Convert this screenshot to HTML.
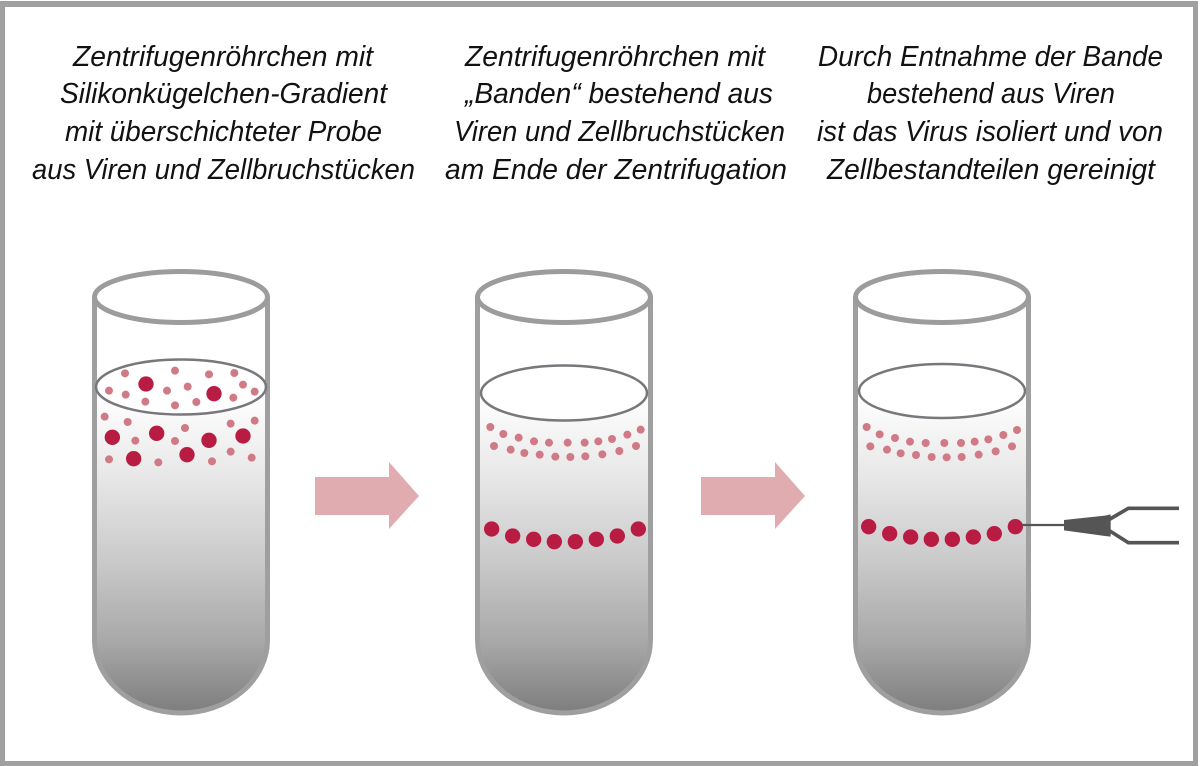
<!DOCTYPE html>
<html lang="de">
<head>
<meta charset="utf-8">
<title>Zentrifugation</title>
<style>
html,body{margin:0;padding:0;background:#fff;width:1200px;height:766px;overflow:hidden}
svg{display:block}
text{font-family:"Liberation Sans",sans-serif;font-style:italic;font-size:29px;fill:#111}
.s{fill:#cf7a84}
.l{fill:#b81c42}
</style>
</head>
<body>
<svg width="1200" height="766" viewBox="0 0 1200 766" xmlns="http://www.w3.org/2000/svg">
<defs>
<linearGradient id="g" gradientUnits="userSpaceOnUse" x1="0" y1="395" x2="0" y2="712">
<stop offset="0" stop-color="#ffffff"/>
<stop offset="0.1" stop-color="#f6f6f6"/>
<stop offset="0.27" stop-color="#e6e6e6"/>
<stop offset="0.53" stop-color="#c9c9c9"/>
<stop offset="0.78" stop-color="#a8a8a8"/>
<stop offset="1" stop-color="#7e7e7e"/>
</linearGradient>
<g id="tube">
<path d="M94.5,297 V640 A86.500,73 0 0 0 267.500,640 V297" fill="url(#g)" stroke="#9f9f9f" stroke-width="5"/>
<ellipse cx="181" cy="297" rx="86.500" ry="25.500" fill="#fff" stroke="#9c9c9c" stroke-width="5"/>
</g>
<path id="arrow" d="M315,477 H389 V462 L419,496 L389,529 V515 H315 Z" fill="#e0acb0"/>
</defs>

<rect x="0" y="1" width="1198" height="765" fill="#a0a0a0"/>
<rect x="5" y="7" width="1188" height="754" fill="#fff"/>

<g text-anchor="start">
<text x="73" y="66" textLength="300" lengthAdjust="spacingAndGlyphs">Zentrifugenröhrchen mit</text>
<text x="60" y="103" textLength="327" lengthAdjust="spacingAndGlyphs">Silikonkügelchen-Gradient</text>
<text x="65" y="141" textLength="317" lengthAdjust="spacingAndGlyphs">mit überschichteter Probe</text>
<text x="32" y="179" textLength="383" lengthAdjust="spacingAndGlyphs">aus Viren und Zellbruchstücken</text>

<text x="465" y="66" textLength="300" lengthAdjust="spacingAndGlyphs">Zentrifugenröhrchen mit</text>
<text x="465" y="103" textLength="308" lengthAdjust="spacingAndGlyphs">„Banden“ bestehend aus</text>
<text x="454" y="141" textLength="331" lengthAdjust="spacingAndGlyphs">Viren und Zellbruchstücken</text>
<text x="445" y="179" textLength="342" lengthAdjust="spacingAndGlyphs">am Ende der Zentrifugation</text>

<text x="818" y="66" textLength="345" lengthAdjust="spacingAndGlyphs">Durch Entnahme der Bande</text>
<text x="867" y="103" textLength="248" lengthAdjust="spacingAndGlyphs">bestehend aus Viren</text>
<text x="817" y="141" textLength="346" lengthAdjust="spacingAndGlyphs">ist das Virus isoliert und von</text>
<text x="827" y="179" textLength="328" lengthAdjust="spacingAndGlyphs">Zellbestandteilen gereinigt</text>
</g>

<!-- Tube 1 -->
<use href="#tube"/>
<ellipse cx="181" cy="387" rx="85" ry="27.500" fill="#fff" stroke="#77777c" stroke-width="2.500"/>
<g transform="translate(80,260) scale(0.33333)">
<g class="s">
<circle cx="135" cy="340" r="12"/><circle cx="285" cy="332" r="12"/><circle cx="387" cy="343" r="12"/><circle cx="463" cy="339" r="12"/><circle cx="489" cy="374" r="12"/><circle cx="524" cy="395" r="12"/><circle cx="460" cy="413" r="12"/><circle cx="349" cy="426" r="12"/><circle cx="285" cy="436" r="12"/><circle cx="323" cy="380" r="12"/><circle cx="261" cy="392" r="12"/><circle cx="196" cy="425" r="12"/><circle cx="137" cy="404" r="12"/><circle cx="87" cy="392" r="12"/><circle cx="74" cy="470" r="12"/><circle cx="143" cy="486" r="12"/><circle cx="315" cy="504" r="12"/><circle cx="452" cy="491" r="12"/><circle cx="524" cy="482" r="12"/><circle cx="166" cy="542" r="12"/><circle cx="285" cy="543" r="12"/><circle cx="452" cy="575" r="12"/><circle cx="515" cy="593" r="12"/><circle cx="396" cy="604" r="12"/><circle cx="235" cy="607" r="12"/><circle cx="87" cy="598" r="12"/>
</g>
<g class="l">
<circle cx="198" cy="372" r="23"/><circle cx="402" cy="401" r="23"/><circle cx="97" cy="532" r="23"/><circle cx="230" cy="520" r="23"/><circle cx="387" cy="541" r="23"/><circle cx="489" cy="528" r="23"/><circle cx="161" cy="596" r="23"/><circle cx="321" cy="584" r="23"/>
</g>
</g>

<!-- Arrow 1 -->
<use href="#arrow"/>

<!-- Tube 2 -->
<use href="#tube" x="383"/>
<ellipse cx="564" cy="393" rx="83" ry="27.500" fill="#fff" stroke="#77777c" stroke-width="2.500"/>
<g transform="translate(470,400) scale(0.33333)">
<g class="s">
<circle cx="61" cy="81" r="12"/><circle cx="100" cy="102" r="12"/><circle cx="146" cy="113" r="12"/><circle cx="192" cy="124" r="12"/><circle cx="237" cy="128" r="12"/><circle cx="293" cy="128" r="12"/><circle cx="344" cy="128" r="12"/><circle cx="385" cy="124" r="12"/><circle cx="426" cy="117" r="12"/><circle cx="472" cy="104" r="12"/><circle cx="512" cy="89" r="12"/><circle cx="72" cy="138" r="12"/><circle cx="122" cy="149" r="12"/><circle cx="163" cy="159" r="12"/><circle cx="209" cy="164" r="12"/><circle cx="256" cy="170" r="12"/><circle cx="301" cy="171" r="12"/><circle cx="346" cy="169" r="12"/><circle cx="397" cy="163" r="12"/><circle cx="448" cy="153" r="12"/><circle cx="498" cy="138" r="12"/>
</g>
<g class="l">
<circle cx="65" cy="387" r="23"/><circle cx="128" cy="408" r="23"/><circle cx="191" cy="418" r="23"/><circle cx="253" cy="425" r="23"/><circle cx="316" cy="425" r="23"/><circle cx="379" cy="418" r="23"/><circle cx="442" cy="408" r="23"/><circle cx="505" cy="387" r="23"/>
</g>
</g>

<!-- Arrow 2 -->
<use href="#arrow" x="386"/>

<!-- Tube 3 -->
<use href="#tube" x="761"/>
<ellipse cx="942" cy="391" rx="83" ry="27" fill="#fff" stroke="#77777c" stroke-width="2.500"/>
<g transform="translate(850,400) scale(0.33333)">
<g class="s">
<circle cx="50" cy="81" r="12"/><circle cx="89" cy="103" r="12"/><circle cx="135" cy="114" r="12"/><circle cx="180" cy="125" r="12"/><circle cx="227" cy="129" r="12"/><circle cx="283" cy="129" r="12"/><circle cx="333" cy="129" r="12"/><circle cx="374" cy="125" r="12"/><circle cx="415" cy="118" r="12"/><circle cx="460" cy="105" r="12"/><circle cx="501" cy="90" r="12"/><circle cx="61" cy="139" r="12"/><circle cx="111" cy="149" r="12"/><circle cx="152" cy="160" r="12"/><circle cx="198" cy="165" r="12"/><circle cx="245" cy="171" r="12"/><circle cx="290" cy="172" r="12"/><circle cx="335" cy="171" r="12"/><circle cx="386" cy="164" r="12"/><circle cx="437" cy="154" r="12"/><circle cx="486" cy="139" r="12"/>
</g>
<g class="l">
<circle cx="56" cy="380" r="23"/><circle cx="119" cy="401" r="23"/><circle cx="182" cy="411" r="23"/><circle cx="244" cy="418" r="23"/><circle cx="307" cy="418" r="23"/><circle cx="370" cy="411" r="23"/><circle cx="433" cy="401" r="23"/><circle cx="496" cy="380" r="23"/>
</g>
<!-- Pipette tool -->
<g fill="none" stroke="#555" stroke-linejoin="miter">
<path d="M515,375 H650" stroke-width="7"/>
<path d="M775,360 L835,325 H987" stroke-width="11"/>
<path d="M775,390 L835,428 H987" stroke-width="11"/>
</g>
<path d="M642,360 L765,347 L782,343 V410 L765,408 L642,391 Z" fill="#555"/>
</g>
</svg>
</body>
</html>
